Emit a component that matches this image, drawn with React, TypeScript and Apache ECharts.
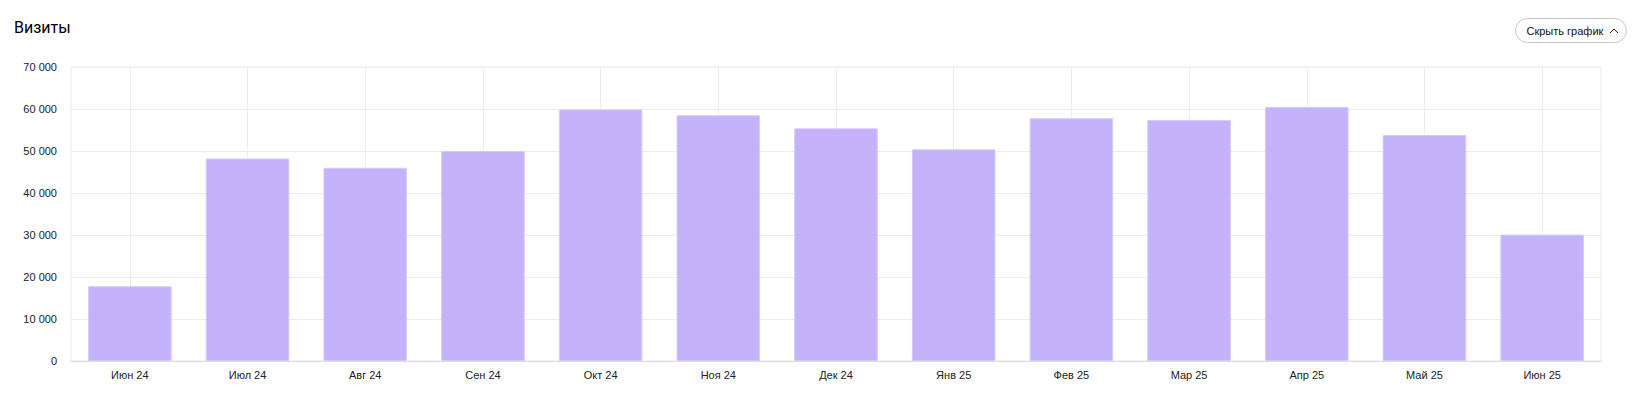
import React, { useEffect, useRef } from "react";
import * as echarts from "echarts";

const categories = ["Июн 24", "Июл 24", "Авг 24", "Сен 24", "Окт 24", "Ноя 24", "Дек 24", "Янв 25", "Фев 25", "Мар 25", "Апр 25", "Май 25", "Июн 25"];
const visits = [17800, 48200, 46000, 50000, 59900, 58500, 55400, 50400, 57800, 57400, 60500, 53800, 30100];
const title = "Визиты";
const buttonLabel = "Скрыть график";

const fmt = (v: number) => String(v).replace(/\B(?=(\d{3})+(?!\d))/g, " ");
const FONT = "Arial, 'Liberation Sans', sans-serif";

export default function App() {
  const ref = useRef<HTMLDivElement>(null);
  useEffect(() => {
    document.body.style.margin = "0";
    const chart = echarts.init(ref.current!, null, { renderer: "svg" });
    const n = categories.length;
    chart.setOption({
      animation: false,
      backgroundColor: "#ffffff",
      textStyle: { fontFamily: FONT },
      title: {
        text: title,
        left: 14,
        top: 19,
        padding: 0,
        textStyle: { fontSize: 16, fontWeight: 400, color: "#000", fontFamily: "Roboto, " + FONT },
      },
      graphic: [
        {
          type: "group",
          left: 1515,
          top: 18,
          children: [
            {
              type: "rect",
              shape: { x: 0, y: 0, width: 111, height: 24, r: 12 },
              style: { fill: "#fff", stroke: "#c9c9c9", lineWidth: 1 },
            },
            {
              type: "text",
              x: 11,
              y: 12.5,
              style: { text: buttonLabel, fontSize: 11, fill: "#111", verticalAlign: "middle", fontFamily: FONT },
            },
            {
              type: "polyline",
              shape: { points: [[94.5, 14.5], [98.5, 10.5], [102.5, 14.5]] },
              style: { stroke: "#222", lineWidth: 1, fill: "none" },
            },
          ],
        },
      ],
      grid: {
        left: 71,
        right: 37,
        top: 67,
        bottom: 34,
        show: true,
        borderColor: "#ebebeb",
        borderWidth: 1,
        containLabel: false,
      },
      xAxis: [
        {
          type: "category",
          data: categories,
          axisLine: { show: true, lineStyle: { color: "#dcdcdc" } },
          axisTick: { show: false },
          axisLabel: { color: "#222", fontSize: 11, margin: 8 },
          splitLine: { show: false },
        },
        {
          type: "value",
          min: 0,
          max: n * 2,
          interval: 1,
          show: true,
          axisLine: { show: false },
          axisTick: { show: false },
          axisLabel: { show: false },
          splitLine: { show: true, lineStyle: { color: ["transparent", "#ececec"], width: 1 } },
        },
      ],
      yAxis: {
        type: "value",
        min: 0,
        max: 70000,
        interval: 10000,
        axisLine: { show: false },
        axisTick: { show: false },
        axisLabel: { color: "#222", fontSize: 11, margin: 14, formatter: (v: number) => fmt(v) },
        splitLine: { show: true, lineStyle: { color: "#ececec", width: 1 } },
      },
      series: [
        {
          type: "bar",
          xAxisIndex: 0,
          data: visits,
          barWidth: "71%",
          itemStyle: { color: "#c4b2fa", borderColor: "#d6c9fc", borderWidth: 1 },
        },
      ],
    });
    return () => chart.dispose();
  }, []);
  return <div ref={ref} style={{ position: "absolute", left: 0, top: 0, width: 1638, height: 395 }} />;
}
